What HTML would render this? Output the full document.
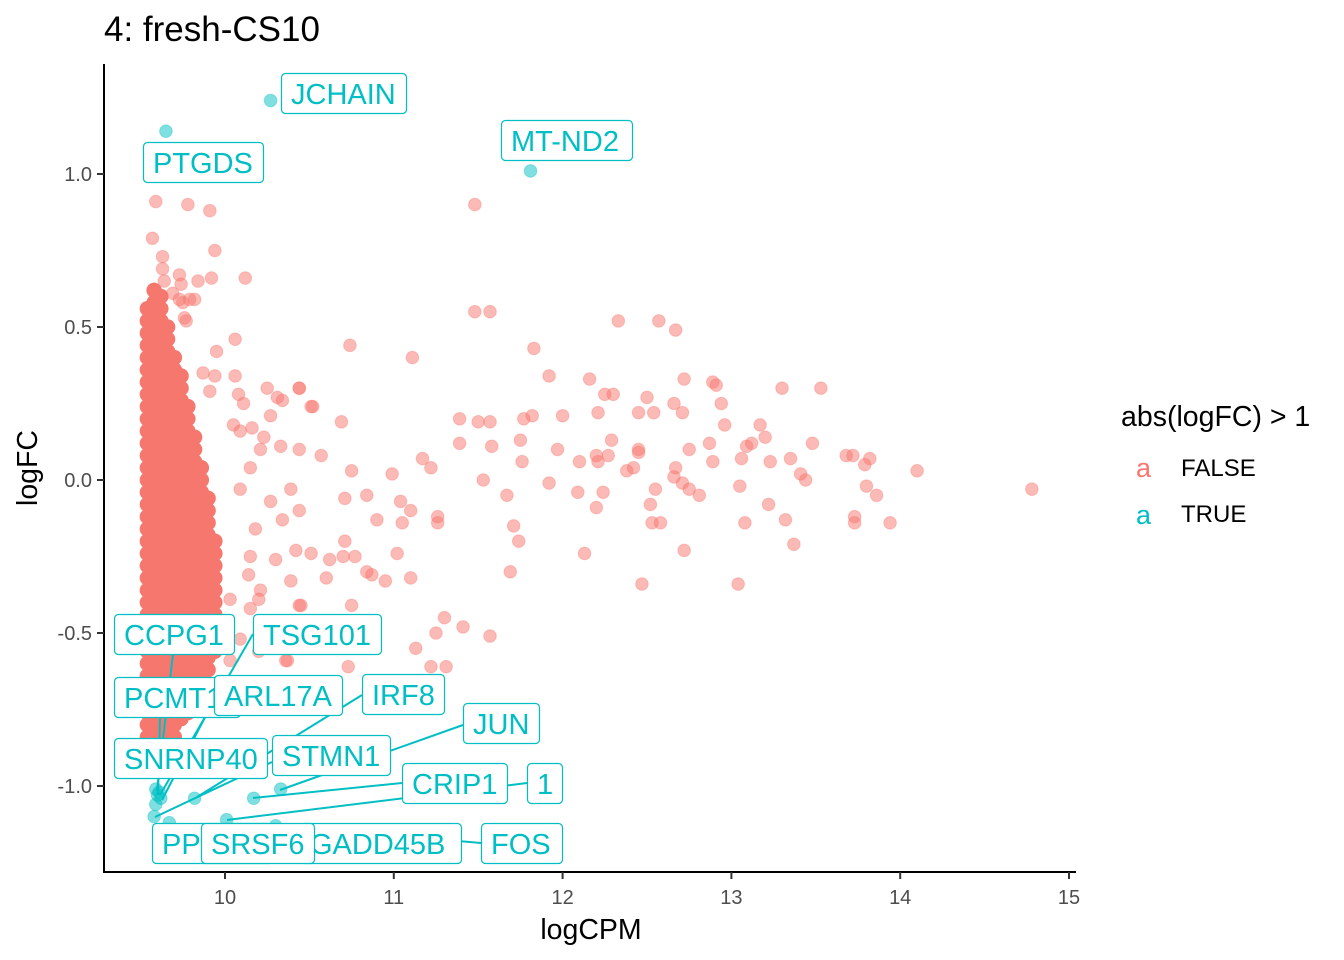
<!DOCTYPE html>
<html><head><meta charset="utf-8">
<style>
html,body{margin:0;padding:0;background:#fff;}
svg{display:block;font-family:"Liberation Sans",sans-serif;}
</style></head>
<body>
<svg id="chart" width="1344" height="960" viewBox="0 0 1344 960">
<text x="104" y="41" font-size="35" fill="#000">4: fresh-CS10</text>
<g id="pts"></g>
<g id="segs"></g>
<g id="labels"></g>
<g id="axes"></g>
<g>
<text x="1121" y="426" font-size="28.5" fill="#000">abs(logFC) &gt; 1</text>
<text x="1136" y="477" font-size="27" fill="#F8766D">a</text>
<text x="1181" y="476" font-size="24" fill="#000">FALSE</text>
<text x="1136" y="524" font-size="27" fill="#00BFC4">a</text>
<text x="1181" y="522" font-size="24" fill="#000">TRUE</text>
</g>
</svg>
<script>
// ---- data ----
const xTicks = [10, 11, 12, 13, 14, 15];
const yTicks = [1.0, 0.5, 0.0, -0.5, -1.0];
const yTickLabels = ["1.0", "0.5", "0.0", "-0.5", "-1.0"];
const cloudX = [9.54, 9.58, 9.62, 9.66, 9.70, 9.74, 9.78, 9.82, 9.86, 9.90, 9.94];
const cloudY = [
 [0.56,0.52,0.48,0.44,0.40,0.36,0.32,0.28,0.24,0.20,0.16,0.12,0.08,0.04,0.00,-0.04,-0.08,-0.12,-0.16,-0.20,-0.24,-0.28,-0.32,-0.36,-0.40,-0.44,-0.48,-0.52,-0.56,-0.60,-0.64,-0.68,-0.72,-0.76,-0.80,-0.84,-0.88,-0.92],
 [0.62,0.58,0.54,0.50,0.46,0.42,0.38,0.34,0.30,0.26,0.22,0.18,0.14,0.10,0.06,0.02,-0.02,-0.06,-0.10,-0.14,-0.18,-0.22,-0.26,-0.30,-0.34,-0.38,-0.42,-0.46,-0.50,-0.54,-0.58,-0.62,-0.66,-0.70,-0.74,-0.78,-0.82,-0.86,-0.90,-0.94],
 [0.60,0.56,0.52,0.48,0.44,0.40,0.36,0.32,0.28,0.24,0.20,0.16,0.12,0.08,0.04,0.00,-0.04,-0.08,-0.12,-0.16,-0.20,-0.24,-0.28,-0.32,-0.36,-0.40,-0.44,-0.48,-0.52,-0.56,-0.60,-0.64,-0.68,-0.72,-0.76,-0.80,-0.84,-0.88,-0.92],
 [0.50,0.46,0.42,0.38,0.34,0.30,0.26,0.22,0.18,0.14,0.10,0.06,0.02,-0.02,-0.06,-0.10,-0.14,-0.18,-0.22,-0.26,-0.30,-0.34,-0.38,-0.42,-0.46,-0.50,-0.54,-0.58,-0.62,-0.66,-0.70,-0.74,-0.78,-0.82,-0.86,-0.90],
 [0.40,0.36,0.32,0.28,0.24,0.20,0.16,0.12,0.08,0.04,0.00,-0.04,-0.08,-0.12,-0.16,-0.20,-0.24,-0.28,-0.32,-0.36,-0.40,-0.44,-0.48,-0.52,-0.56,-0.60,-0.64,-0.68,-0.72,-0.76,-0.80,-0.84],
 [0.34,0.30,0.26,0.22,0.18,0.14,0.10,0.06,0.02,-0.02,-0.06,-0.10,-0.14,-0.18,-0.22,-0.26,-0.30,-0.34,-0.38,-0.42,-0.46,-0.50,-0.54,-0.58,-0.62,-0.66,-0.70,-0.74,-0.78],
 [0.24,0.20,0.16,0.12,0.08,0.04,0.00,-0.04,-0.08,-0.12,-0.16,-0.20,-0.24,-0.28,-0.32,-0.36,-0.40,-0.44,-0.48,-0.52,-0.56,-0.60,-0.64,-0.68,-0.72,-0.76],
 [0.14,0.10,0.06,0.02,-0.02,-0.06,-0.10,-0.14,-0.18,-0.22,-0.26,-0.30,-0.34,-0.38,-0.42,-0.46,-0.50,-0.54,-0.58,-0.62,-0.66,-0.70],
 [0.04,0.00,-0.04,-0.08,-0.12,-0.16,-0.20,-0.24,-0.28,-0.32,-0.36,-0.40,-0.44,-0.48,-0.52,-0.56,-0.60,-0.64],
 [-0.06,-0.10,-0.14,-0.18,-0.22,-0.26,-0.30,-0.34,-0.38,-0.42,-0.46,-0.50,-0.54,-0.58,-0.62],
 [-0.20,-0.24,-0.28,-0.32,-0.36,-0.40,-0.44,-0.48,-0.52,-0.56]
];
const falseX = [9.59,9.78,9.91,9.57,9.94,9.63,9.63,9.73,9.74,9.69,9.73,9.75,9.82,9.92,9.64,9.76,9.77,9.84,9.79,10.12,10.06,9.95,10.06,9.87,9.94,9.91,10.08,10.11,10.25,10.44,10.05,10.27,10.52,10.34,10.16,10.23,10.09,10.21,10.15,10.33,10.44,10.57,10.39,10.09,10.27,10.44,10.34,10.18,10.15,10.30,10.14,10.21,10.39,10.03,10.15,10.27,10.09,10.20,10.36,10.03,10.20,10.44,
 11.48,11.48,11.57,12.33,12.57,12.67,10.74,11.83,11.11,11.92,12.16,12.72,12.89,12.91,13.30,13.53,10.44,10.31,12.25,12.30,12.50,12.66,12.94,10.51,11.39,11.50,11.57,11.77,11.82,12.00,12.21,12.45,12.54,12.71,10.69,13.17,13.12,12.96,12.87,13.20,13.48,11.39,11.58,11.75,12.29,13.09,12.45,12.75,11.97,11.17,12.10,12.21,12.27,12.45,12.67,12.89,13.06,13.23,13.35,13.41,13.44,13.68,13.72,13.82,13.79,14.10,10.75,10.99,11.22,12.38,12.42,11.76,12.20,12.66,13.05,12.71,12.75,12.81,12.55,11.92,11.53,12.09,12.24,11.67,13.80,13.86,14.78,10.71,10.84,11.04,11.10,12.52,12.20,13.22,13.73,13.73,13.94,13.32,13.08,10.90,11.26,11.26,11.05,11.71,12.53,12.58,11.74,10.71,11.02,12.13,12.72,13.37,10.70,10.77,10.51,10.42,10.62,10.84,10.87,11.69,10.60,11.10,10.95,12.47,13.04,10.75,10.45,11.30,11.41,11.25,11.57,10.74,11.22,11.31,11.13,10.73,10.37];
const falseY = [0.91,0.90,0.88,0.79,0.75,0.73,0.69,0.67,0.64,0.61,0.59,0.58,0.59,0.66,0.65,0.53,0.52,0.65,0.59,0.66,0.46,0.42,0.34,0.35,0.34,0.29,0.28,0.25,0.30,0.30,0.18,0.21,0.24,0.26,0.17,0.14,0.16,0.10,0.04,0.11,0.10,0.08,-0.03,-0.03,-0.07,-0.10,-0.13,-0.16,-0.25,-0.26,-0.31,-0.36,-0.33,-0.39,-0.42,-0.46,-0.52,-0.56,-0.59,-0.59,-0.39,-0.41,
 0.90,0.55,0.55,0.52,0.52,0.49,0.44,0.43,0.40,0.34,0.33,0.33,0.32,0.31,0.30,0.30,0.30,0.27,0.28,0.28,0.27,0.25,0.25,0.24,0.20,0.19,0.19,0.20,0.21,0.21,0.22,0.22,0.22,0.22,0.19,0.18,0.12,0.18,0.12,0.14,0.12,0.12,0.11,0.13,0.13,0.11,0.10,0.10,0.10,0.07,0.06,0.06,0.08,0.09,0.04,0.06,0.07,0.06,0.07,0.02,0.00,0.08,0.08,0.07,0.05,0.03,0.03,0.02,0.04,0.03,0.04,0.06,0.08,0.01,-0.02,-0.01,-0.03,-0.05,-0.03,-0.01,0.00,-0.04,-0.04,-0.05,-0.02,-0.05,-0.03,-0.06,-0.05,-0.07,-0.10,-0.08,-0.09,-0.08,-0.12,-0.14,-0.14,-0.13,-0.14,-0.13,-0.12,-0.14,-0.14,-0.15,-0.14,-0.14,-0.20,-0.20,-0.24,-0.24,-0.23,-0.21,-0.25,-0.25,-0.24,-0.23,-0.26,-0.30,-0.31,-0.30,-0.32,-0.32,-0.33,-0.34,-0.34,-0.41,-0.41,-0.45,-0.48,-0.50,-0.51,-0.48,-0.61,-0.61,-0.55,-0.61,-0.59];
const trueX = [10.27,9.65,11.81,9.59,9.61,9.60,9.59,9.58,9.67,9.82,10.17,10.33,10.01,10.30,9.62];
const trueY = [1.24,1.14,1.01,-1.01,-1.02,-1.03,-1.06,-1.10,-1.12,-1.04,-1.04,-1.01,-1.11,-1.13,-1.04];

// ---- scales ----
const X0 = 225, XS = 168.8, Y0 = 480, YS = 306;
const sx = v => X0 + (v - 10) * XS;
const sy = v => Y0 - v * YS;
const R = 6.3;
const NS = "http://www.w3.org/2000/svg";
function mk(tag, attrs, parent){const e=document.createElementNS(NS,tag);for(const k in attrs)e.setAttribute(k,attrs[k]);parent.appendChild(e);return e;}

const pts = document.getElementById('pts');
cloudX.forEach((cx, i) => {
  cloudY[i].forEach(v => {
    const c = mk('circle', {cx: sx(cx), cy: sy(v), r: R+1.4, fill: '#F6776D'}, pts);
    
    
  });
});
falseX.forEach((xv, i) => {
  const c = mk('circle', {cx: sx(xv), cy: sy(falseY[i]), r: R, fill: '#F8766D', 'fill-opacity': 0.5, stroke:'#F8766D', 'stroke-opacity':0.35, 'stroke-width':1}, pts);
  
  
});
trueX.forEach((xv, i) => {
  const c = mk('circle', {cx: sx(xv), cy: sy(trueY[i]), r: R, fill: '#00BFC4', 'fill-opacity': 0.5, stroke:'#00BFC4', 'stroke-opacity':0.35, 'stroke-width':1}, pts);
  
  
});

// ---- labels ----
const labels = [
 ["PPP1R15A", 152, 823, 120, null],
 ["GADD45B", 300, 823, 161, [310,843,275,825]],
 ["SRSF6", 201, 823, 113, null],
 ["FOS", 481, 823, 81, [481,843,275,825]],
 ["PCMT1", 114, 677, 126, [160,717,158,795]],
 ["CCPG1", 114, 614, 120, [173,654,157,790]],
 ["TSG101", 253, 614, 128, [253,634,160,795]],
 ["ARL17A", 214, 675, 128, [214,700,162,800]],
 ["IRF8", 362, 674, 82, [362,695,197,797]],
 ["JUN", 463, 703, 76, [463,725,280,790]],
 ["SNRNP40", 114, 738, 153, null],
 ["STMN1", 272, 735, 118, [272,762,155,817]],
 ["CRIP1", 402, 763, 105, [402,783,253,798]],
 ["1", 527, 763, 35, [527,783,227,820]],
 ["JCHAIN", 281, 73, 125, null],
 ["MT-ND2", 501, 120, 131, null],
 ["PTGDS", 143, 142, 120, null]
];
const segs = document.getElementById('segs');
const lab = document.getElementById('labels');
labels.forEach(l => {
  if (l[4]) {
    const s = mk('line', {x1:l[4][0], y1:l[4][1], x2:l[4][2], y2:l[4][3], stroke:'#00BFC4', 'stroke-width':2}, segs);
    
    
  }
  const g = mk('g', {}, lab);
  
  
  mk('clipPath', {id:'cl'+l[0]}, g);
  g.lastChild.appendChild(document.createElementNS(NS,'rect'));
  const cr = g.lastChild.lastChild;
  cr.setAttribute('x', l[1]); cr.setAttribute('y', l[2]); cr.setAttribute('width', l[3]); cr.setAttribute('height', 41);
  mk('rect', {x:l[1]+0.5, y:l[2]+0.5, width:l[3], height:40, rx:4, fill:'#fff', stroke:'#00BFC4', 'stroke-width':1.2}, g);
  const t = mk('text', {x:l[1]+10, y:l[2]+31, 'font-size':29, fill:'#00BFC4', 'clip-path':'url(#cl'+l[0]+')'}, g);
  t.textContent = l[0];
});

// ---- axes ----
const ax = document.getElementById('axes');
let a = mk('line', {x1:104, y1:64, x2:104, y2:873, stroke:'#000', 'stroke-width':2}, ax);
 
a = mk('line', {x1:103, y1:872, x2:1076, y2:872, stroke:'#000', 'stroke-width':2}, ax);
 
xTicks.forEach(v => {
  const tk = mk('line', {x1:sx(v), y1:872, x2:sx(v), y2:879, stroke:'#333', 'stroke-width':2}, ax);
   
  const t = mk('text', {x:sx(v), y:904, 'font-size':20, fill:'#4d4d4d', 'text-anchor':'middle'}, ax);
   
  t.textContent = v;
});
yTicks.forEach((v, i) => {
  const tk = mk('line', {x1:97, y1:sy(v), x2:104, y2:sy(v), stroke:'#333', 'stroke-width':2}, ax);
   
  const t = mk('text', {x:92, y:sy(v)+7, 'font-size':20, fill:'#4d4d4d', 'text-anchor':'end'}, ax);
   
  t.textContent = yTickLabels[i];
});
let tt = mk('text', {x:591, y:939, 'font-size':28.5, fill:'#000', 'text-anchor':'middle'}, ax);
 
tt.textContent = 'logCPM';
tt = mk('text', {x:0, y:0, 'font-size':28.5, fill:'#000', 'text-anchor':'middle', transform:'translate(37,468) rotate(-90)'}, ax);
 
tt.textContent = 'logFC';
</script>
</body></html>
